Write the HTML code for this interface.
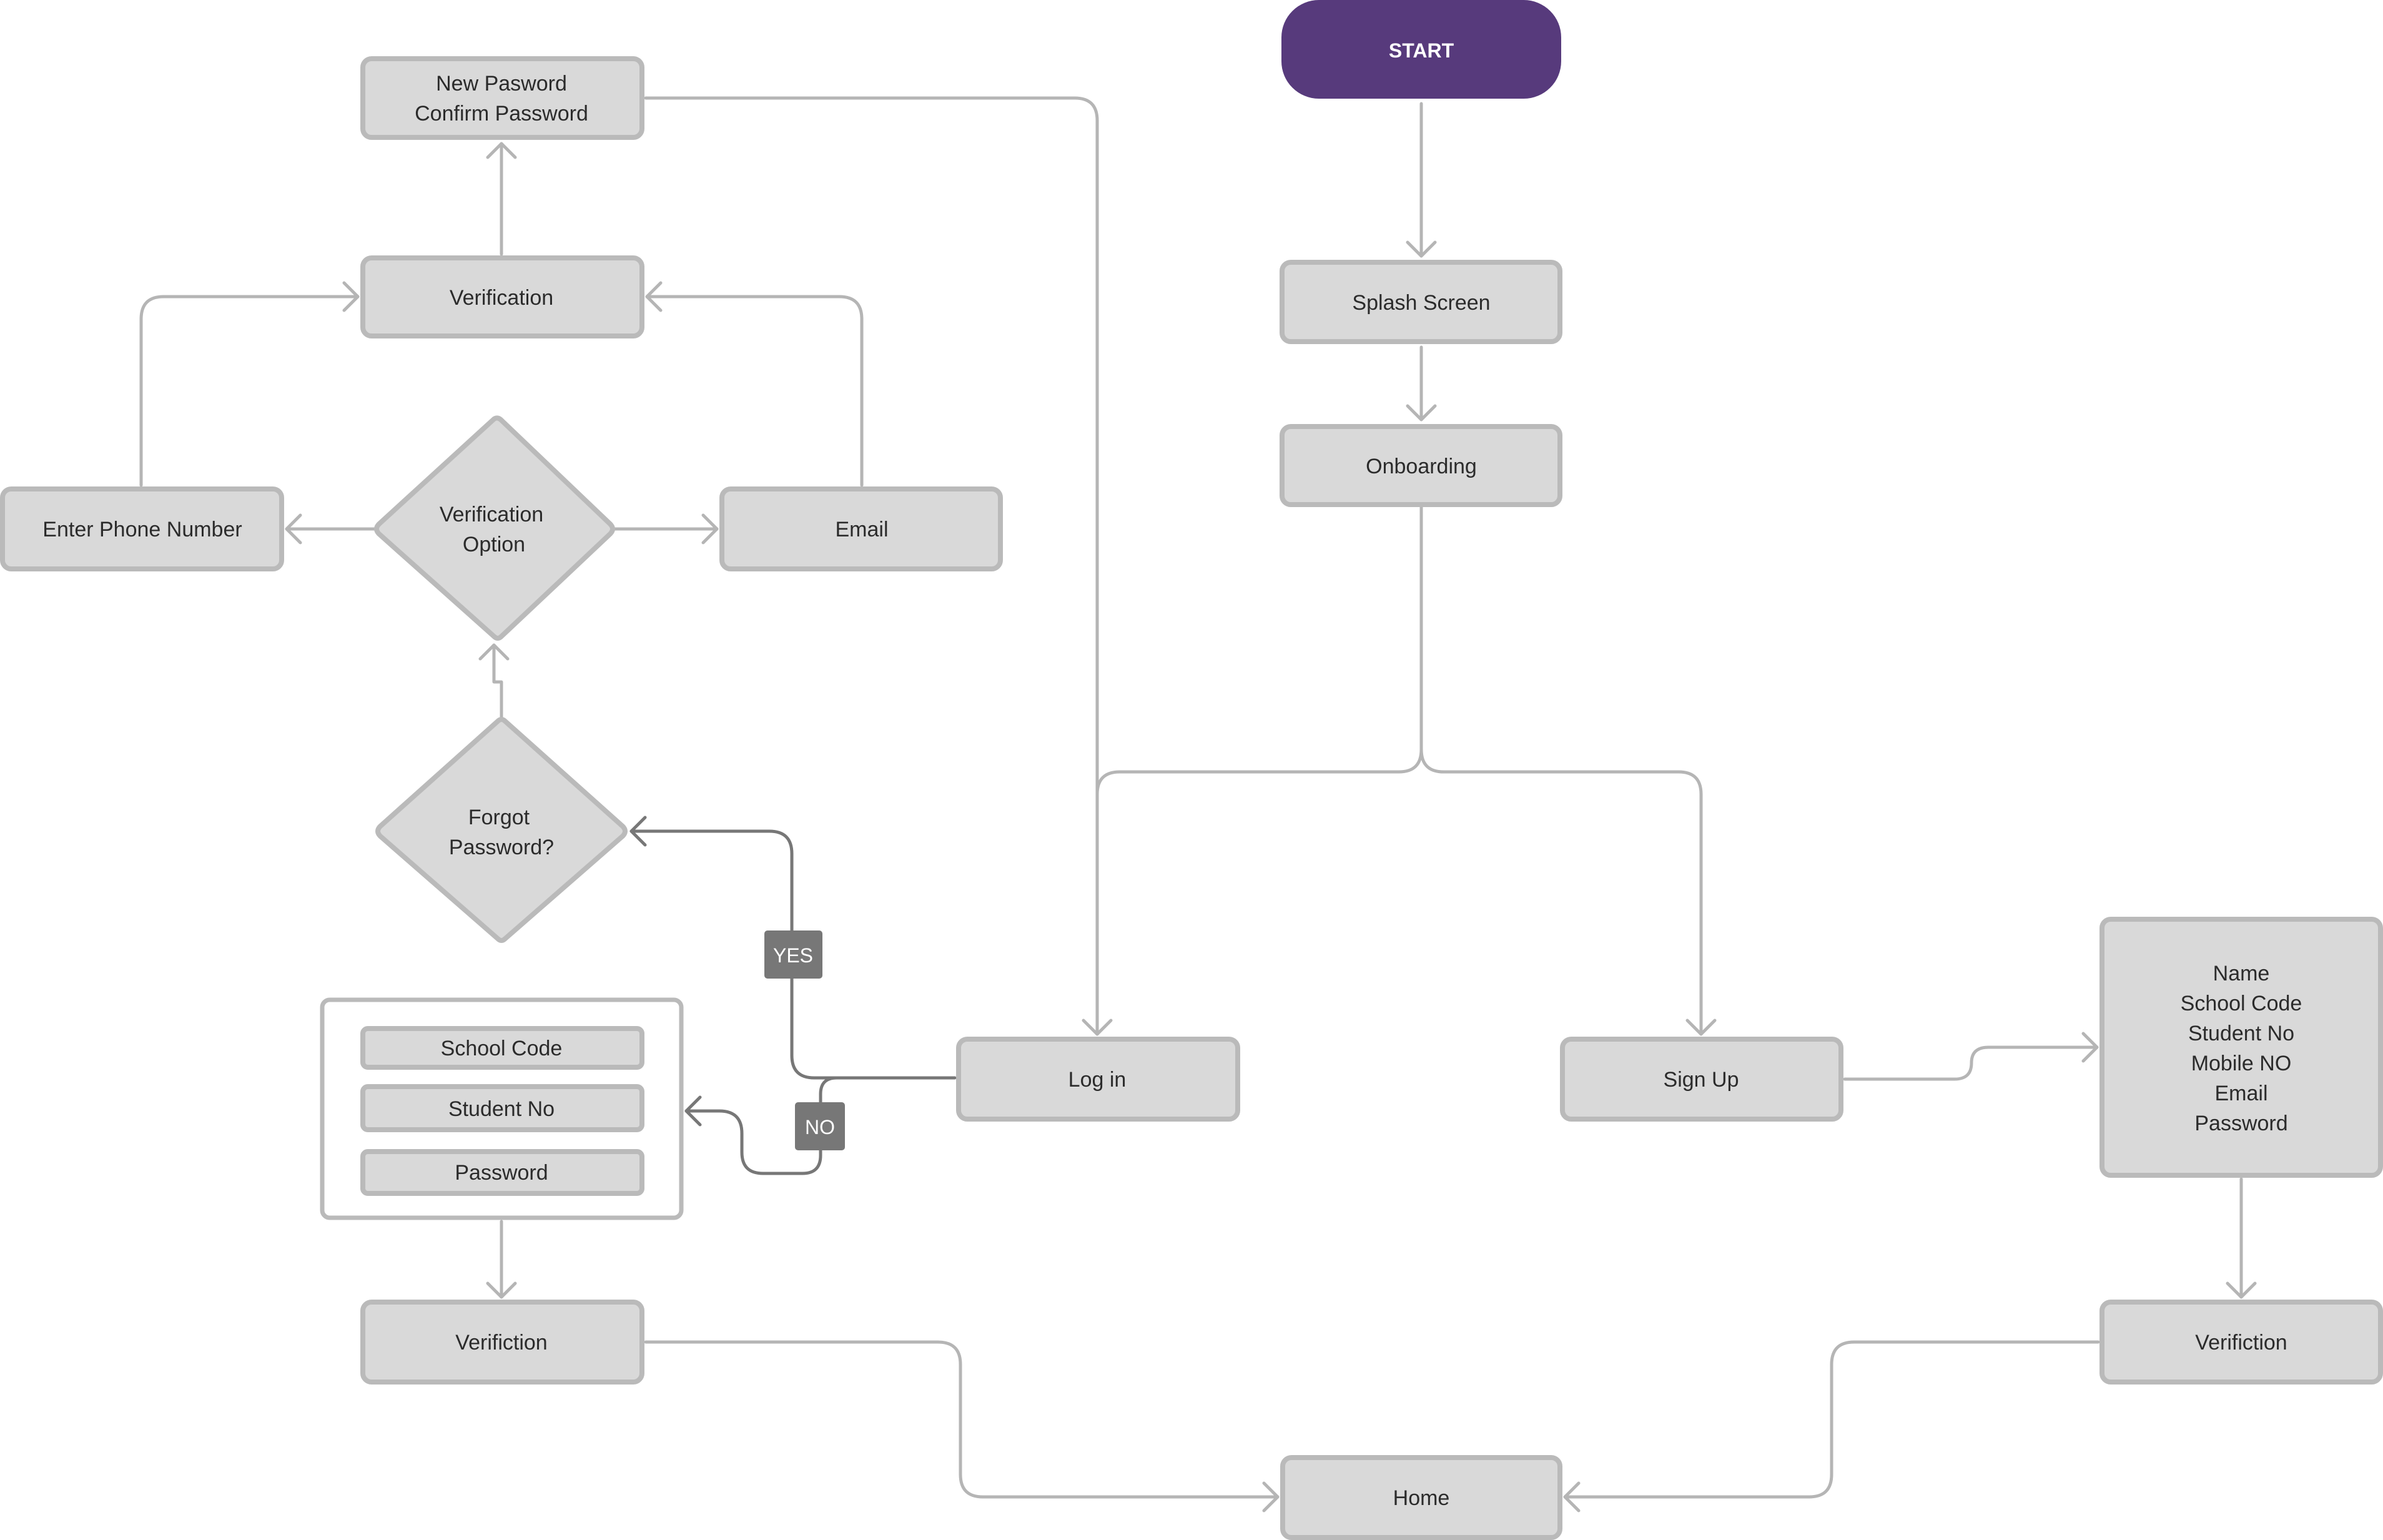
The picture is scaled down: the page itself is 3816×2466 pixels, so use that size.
<!DOCTYPE html>
<html><head><meta charset="utf-8"><style>
html,body{margin:0;padding:0;background:#fff;}
svg{display:block;}
text{font-family:"Liberation Sans",sans-serif;font-size:34px;fill:#2b2b2b;text-anchor:middle;}
.n{fill:#d9d9d9;stroke:#bababa;stroke-width:8;}
.c{fill:none;stroke:#b5b5b5;stroke-width:5;stroke-linecap:round;stroke-linejoin:round;}
.d{fill:none;stroke:#777;stroke-width:5;stroke-linecap:round;stroke-linejoin:round;}
</style></head><body>
<svg width="3816" height="2466" viewBox="0 0 3816 2466" xmlns="http://www.w3.org/2000/svg">
<defs>
<marker id="a" markerUnits="userSpaceOnUse" markerWidth="60" markerHeight="60" refX="30" refY="30" orient="auto" viewBox="0 0 60 60">
<path d="M8,8 L30,30 L8,52" fill="none" stroke="#b5b5b5" stroke-width="5" stroke-linecap="round" stroke-linejoin="round"/></marker>
<marker id="b" markerUnits="userSpaceOnUse" markerWidth="60" markerHeight="60" refX="30" refY="30" orient="auto" viewBox="0 0 60 60">
<path d="M8,8 L30,30 L8,52" fill="none" stroke="#777" stroke-width="5" stroke-linecap="round" stroke-linejoin="round"/></marker>
</defs>

<!-- connectors -->
<path class="c" d="M2276,166 V410" marker-end="url(#a)"/>
<path class="c" d="M2276,556 V672" marker-end="url(#a)"/>
<path class="c" d="M2276,812 V1200 Q2276,1236 2240,1236 H1793 Q1757,1236 1757,1272 V1656" marker-end="url(#a)"/>
<path class="c" d="M2276,1200 Q2276,1236 2312,1236 H2688 Q2724,1236 2724,1272 V1656" marker-end="url(#a)"/>
<path class="c" d="M1034,157 H1721 Q1757,157 1757,193 V1656"/>
<path class="c" d="M803,407 V230" marker-end="url(#a)"/>
<path class="c" d="M226,777 V511 Q226,475 262,475 H573" marker-end="url(#a)"/>
<path class="c" d="M1380,777 V511 Q1380,475 1344,475 H1036" marker-end="url(#a)"/>
<path class="c" d="M599,847 H459" marker-end="url(#a)"/>
<path class="c" d="M983,847 H1148" marker-end="url(#a)"/>
<path class="c" d="M803,1151 V1092 H791 V1033" marker-end="url(#a)"/>
<path class="c" d="M803,1956 V2077" marker-end="url(#a)"/>
<path class="c" d="M1034,2149 H1502 Q1538,2149 1538,2185 V2361 Q1538,2397 1574,2397 H2046" marker-end="url(#a)"/>
<path class="c" d="M3360,2149 H2969 Q2933,2149 2933,2185 V2361 Q2933,2397 2897,2397 H2506" marker-end="url(#a)"/>
<path class="c" d="M2954,1728 H3130 Q3157,1728 3157,1702 Q3157,1677 3184,1677 H3358" marker-end="url(#a)"/>
<path class="c" d="M3589,1888 V2077" marker-end="url(#a)"/>

<path class="d" d="M1529,1726 H1304 Q1268,1726 1268,1690 V1367 Q1268,1331 1232,1331 H1011" marker-end="url(#b)"/>
<path class="d" d="M1340,1726 Q1314,1726 1314,1752 V1850 Q1314,1879 1285,1879 H1222 Q1188,1879 1188,1845 V1815 Q1188,1779 1152,1779 H1099" marker-end="url(#b)"/>

<!-- labels -->
<rect x="1224" y="1490" width="93" height="77" rx="5" fill="#777"/>
<text x="1270" y="1541" style="fill:#fff;font-size:32px">YES</text>
<rect x="1273" y="1765" width="80" height="77" rx="5" fill="#777"/>
<text x="1313" y="1816" style="fill:#fff;font-size:32px">NO</text>

<!-- nodes -->
<rect x="2052" y="0" width="448" height="158" rx="60" fill="#573a7c"/>
<text x="2276" y="92" style="fill:#fff;font-weight:bold;font-size:32px">START</text>

<rect class="n" x="2053" y="420" width="445" height="127" rx="14"/>
<text x="2276" y="496">Splash Screen</text>
<rect class="n" x="2053" y="683" width="445" height="125" rx="14"/>
<text x="2276" y="758">Onboarding</text>

<rect class="n" x="581" y="94" width="447" height="126" rx="14"/>
<text x="803" y="145">New Pasword</text>
<text x="803" y="193">Confirm Password</text>
<rect class="n" x="581" y="413" width="447" height="125" rx="14"/>
<text x="803" y="488">Verification</text>

<rect class="n" x="4" y="783" width="447" height="128" rx="14"/>
<text x="228" y="859">Enter Phone Number</text>
<rect class="n" x="1156" y="783" width="446" height="128" rx="14"/>
<text x="1380" y="859">Email</text>

<path class="n" d="M791,671 Q797,667 803,673 L977,839 Q985,847 977,855 L803,1019 Q797,1025 791,1019 L607,855 Q599,847 607,839 Z"/>
<text x="787" y="835">Verification</text>
<text x="791" y="883">Option</text>

<path class="n" d="M797,1155 Q803,1149 809,1155 L997,1323 Q1005,1331 997,1339 L809,1503 Q803,1509 797,1503 L609,1339 Q601,1331 609,1323 Z"/>
<text x="799" y="1320">Forgot</text>
<text x="803" y="1368">Password?</text>

<rect x="516" y="1601" width="575" height="349" rx="12" fill="#fff" stroke="#bababa" stroke-width="7"/>
<rect class="n" x="581" y="1647" width="447" height="62" rx="8"/>
<text x="803" y="1690">School Code</text>
<rect class="n" x="581" y="1740" width="447" height="69" rx="8"/>
<text x="803" y="1787">Student No</text>
<rect class="n" x="581" y="1844" width="447" height="67" rx="8"/>
<text x="803" y="1889">Password</text>

<rect class="n" x="581" y="2085" width="447" height="128" rx="14"/>
<text x="803" y="2161">Verifiction</text>

<rect class="n" x="1535" y="1664" width="447" height="128" rx="14"/>
<text x="1757" y="1740">Log in</text>
<rect class="n" x="2502" y="1664" width="446" height="128" rx="14"/>
<text x="2724" y="1740">Sign Up</text>

<rect class="n" x="3366" y="1472" width="446" height="410" rx="14"/>
<text x="3589" y="1570">Name</text>
<text x="3589" y="1618">School Code</text>
<text x="3589" y="1666">Student No</text>
<text x="3589" y="1714">Mobile NO</text>
<text x="3589" y="1762">Email</text>
<text x="3589" y="1810">Password</text>

<rect class="n" x="3366" y="2085" width="446" height="128" rx="14"/>
<text x="3589" y="2161">Verifiction</text>

<rect class="n" x="2054" y="2334" width="444" height="128" rx="14"/>
<text x="2276" y="2410">Home</text>
</svg>
</body></html>
